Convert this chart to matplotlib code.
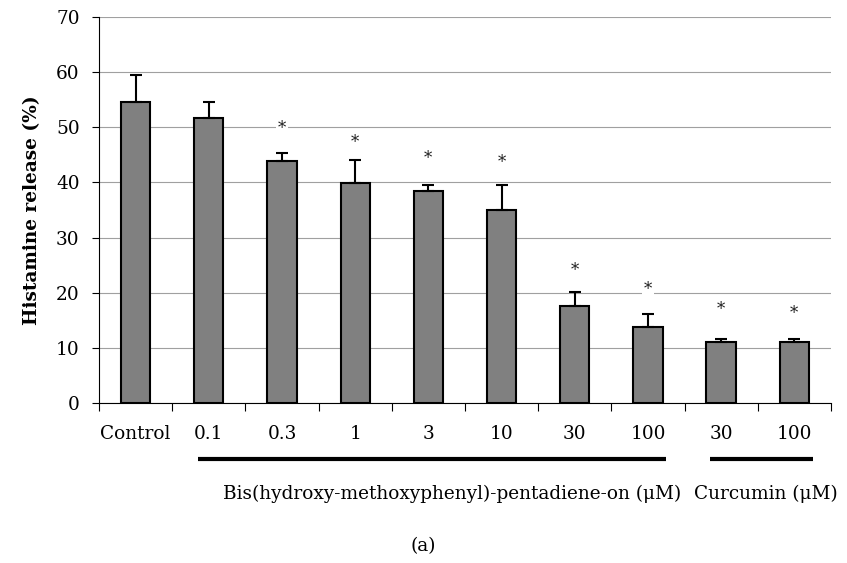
import matplotlib
matplotlib.use('Agg')
from matplotlib import pyplot as plt
from matplotlib import transforms
import numpy as np

# Dados
categorias = ['Control', '0.1', '0.3', '1', '3', '10', '30', '100', '30', '100']
liberacao = [54.6, 51.7, 43.9, 39.9, 38.5, 35.0, 17.6, 13.8, 11.1, 11.1]
erro = [4.9, 2.9, 1.5, 4.2, 1.1, 4.6, 2.5, 2.4, 0.5, 0.5]
asterisco_y = [None, None, 49.7, 47.2, 44.3, 43.6, 24.1, 20.5, 16.9, 16.3]
grupos = [('Bis(hydroxy-methoxyphenyl)-pentadiene-on (\u03bcM)', 1, 7),
          ('Curcumin (\u03bcM)', 8, 9)]

plt.rcParams['font.family'] = ['DejaVu Serif']
tam = 13.3

fig = plt.figure(figsize=(8.47, 5.63), dpi=100)
ax = fig.add_axes([0.1169, 0.2842, 0.981 - 0.1169, 0.9698 - 0.2842])

x = np.arange(len(categorias))
ax.bar(x, liberacao, width=0.4, color='#808080', edgecolor='black',
       linewidth=1.5, zorder=3)
ax.errorbar(x, liberacao, yerr=[np.zeros(len(erro)), erro], fmt='none',
            ecolor='black', elinewidth=1.5, capsize=4.5, capthick=1.5, zorder=4)

for xi, yi in zip(x, asterisco_y):
    if yi is not None:
        ax.text(xi, yi, '*', ha='center', va='center', fontsize=12, color='#222222',
                bbox=dict(facecolor='white', edgecolor='none', pad=1.5), zorder=5)

ax.set_xlim(-0.5, len(categorias) - 0.5)
ax.set_ylim(0, 70)
ax.set_yticks(range(0, 71, 10))
ax.yaxis.grid(True, color='#a0a0a0', linewidth=0.8, zorder=0)
ax.tick_params(axis='y', labelsize=tam, length=5, width=0.8, pad=9)

ax.set_xticks(np.arange(-0.5, len(categorias)), labels=[])
ax.set_xticks(x, labels=categorias, minor=True)
ax.tick_params(axis='x', which='major', length=6, width=0.8)
ax.tick_params(axis='x', which='minor', length=0, labelsize=tam, pad=16)

for lado in ['top', 'right']:
    ax.spines[lado].set_visible(False)
ax.spines['left'].set_linewidth(0.8)
ax.spines['bottom'].set_linewidth(0.8)

ax.set_ylabel('Histamine release (%)', fontsize=tam, fontweight='bold', labelpad=11)

# Linhas dos grupos e rótulos
trans = transforms.blended_transform_factory(ax.transData, ax.transAxes)
for nome, ini, fim in grupos:
    ax.plot([ini - 0.15, fim + 0.25], [-0.145, -0.145], color='black',
            linewidth=3, transform=trans, clip_on=False, solid_capstyle='butt')

ax.text(4.32, -0.235, grupos[0][0], transform=trans, ha='center', va='center',
        fontsize=tam)
ax.text(8.61, -0.235, grupos[1][0], transform=trans, ha='center', va='center',
        fontsize=tam)

fig.text(0.5, 0.03, '(a)', ha='center', va='center', fontsize=tam)

fig.savefig('out.png', dpi=100)
